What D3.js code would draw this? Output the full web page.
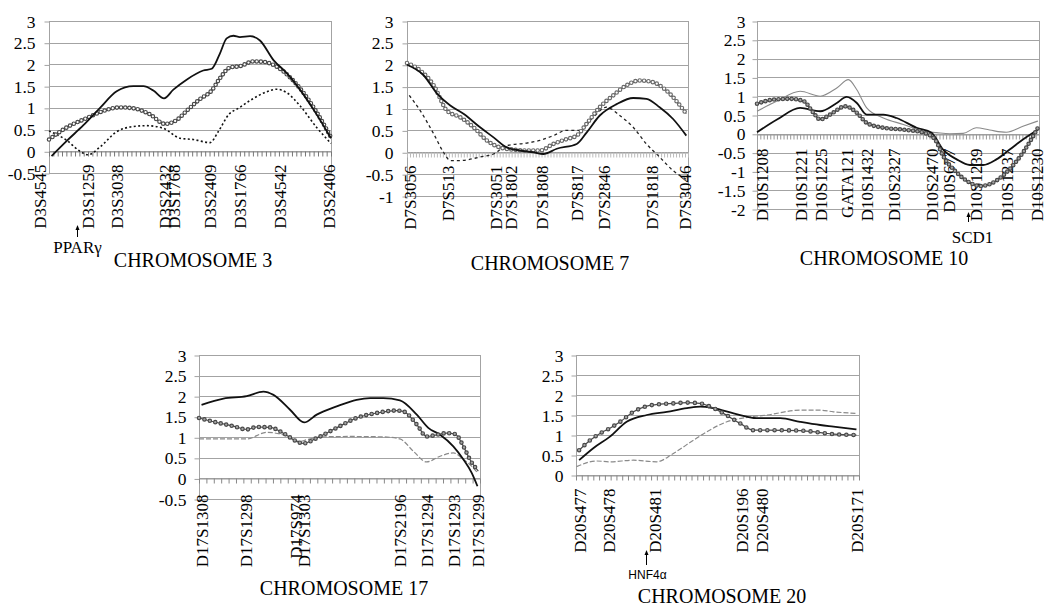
<!DOCTYPE html>
<html><head><meta charset="utf-8">
<script src="https://cdn.jsdelivr.net/npm/d3@7"></script>
<style>body{margin:0;background:#fff}svg{display:block}</style>
</head><body>
<svg id="c" width="1050" height="616"></svg>
<script>
// ---------------- DATA ----------------
// positions are relative map positions (0-100) along each chromosome segment
const chr3YTicks = [-0.5,0,0.5,1,1.5,2,2.5,3];
const chr3Markers = ["D3S4545","D3S1259","D3S3038","D3S2432","D3S1768","D3S2409","D3S1766","D3S4542","D3S2406"];
const chr3MarkerPos = [-3.5,13.5,24.1,40.8,44.3,57.1,67.4,81.9,99.3];
const chr3Solid = [[0.9,-0.11],[6.3,0.24],[12.2,0.6],[18.1,1.0],[24.0,1.38],[29.9,1.5],[33.5,1.5],[37.0,1.4],[40.8,1.22],[44.1,1.42],[48.8,1.65],[54.7,1.86],[57.7,1.9],[60.6,2.25],[63.0,2.6],[65.4,2.66],[67.7,2.63],[71.3,2.65],[74.8,2.55],[79.6,2.1],[84.3,1.8],[89.0,1.42],[94.9,0.85],[100,0.3]];
const chr3Circle = [[0,0.27],[6.3,0.55],[13.6,0.77],[18.1,0.9],[25.2,1.01],[29.9,0.99],[35.8,0.85],[41.1,0.63],[45.3,0.72],[48.8,0.93],[53.5,1.2],[57.7,1.4],[60.6,1.68],[64.2,1.93],[67.7,1.96],[72.5,2.07],[76.0,2.06],[80.7,1.95],[85.5,1.7],[90.2,1.35],[94.9,0.9],[100,0.32]];
const chr3Dotted = [[0,0.47],[6.3,0.25],[11.0,0.0],[13.9,-0.08],[18.1,0.1],[24.0,0.45],[29.9,0.57],[34.6,0.59],[40.5,0.53],[46.5,0.3],[51.2,0.27],[57.1,0.2],[60.0,0.45],[63.8,0.85],[67.4,1.0],[71.3,1.17],[77.2,1.37],[80.7,1.43],[84.3,1.35],[89.0,1.05],[94.9,0.55],[100,0.18]];

const chr7YTicks = [-1,-0.5,0,0.5,1,1.5,2,2.5,3];
const chr7Markers = ["D7S3056","D7S513","D7S3051","D7S1802","D7S1808","D7S817","D7S2846","D7S1818","D7S3046"];
const chr7MarkerPos = [0.8,14.4,31.4,36.7,47.9,60.4,69.8,87.0,98.8];
const chr7Solid = [[0,2.0],[5.9,1.76],[10.7,1.34],[15.4,1.07],[20.1,0.88],[26.0,0.57],[30.8,0.34],[35.5,0.11],[40.2,0.04],[45.0,0.0],[48.5,-0.04],[53.3,0.08],[60.4,0.19],[63.9,0.45],[68.6,0.84],[74.6,1.1],[80.5,1.24],[85.2,1.22],[89.9,1.03],[94.7,0.76],[99.4,0.38]];
const chr7Circle = [[0,2.04],[4.7,1.87],[9.5,1.53],[14.2,0.95],[18.9,0.8],[23.7,0.57],[28.4,0.27],[33.1,0.11],[37.9,0.06],[42.6,0.04],[47.3,0.04],[52.1,0.19],[56.8,0.3],[60.4,0.38],[63.9,0.65],[68.6,1.03],[73.4,1.3],[78.1,1.53],[82.8,1.64],[87.6,1.6],[92.3,1.41],[99.4,0.88]];
const chr7Dotted = [[0.8,1.3],[4.7,0.95],[9.5,0.42],[13.0,0.0],[15.4,-0.19],[18.9,-0.19],[26.0,-0.11],[30.8,-0.04],[35.5,0.15],[42.6,0.21],[47.3,0.27],[52.1,0.38],[56.8,0.5],[61.5,0.5],[66.3,0.8],[71.0,1.03],[75.7,0.84],[80.5,0.57],[85.2,0.19],[89.9,-0.11],[94.7,-0.42],[99.4,-0.62]];

const chr10YTicks = [-2,-1.5,-1,-0.5,0,0.5,1,1.5,2,2.5,3];
const chr10Markers = ["D10S1208","D10S1221","D10S1225","GATA121","D10S1432","D10S2327","D10S2470","D10S677","D10S1239","D10S1237","D10S1230"];
const chr10MarkerPos = [1.6,15.6,22.4,31.8,38.9,48.3,61.9,67.8,77.6,88.4,99.1];
const chr10Thin = [[0,0.6],[7.1,0.87],[15.3,1.13],[22.4,1.0],[28.3,1.22],[32.4,1.44],[35.4,1.17],[38.9,0.69],[44.8,0.42],[51.9,0.25],[59.0,0.07],[63.7,0.03],[68.4,0.0],[73.1,0.01],[77.8,0.16],[82.5,0.1],[88.4,0.04],[94.3,0.2],[99.6,0.34]];
const chr10Solid = [[0,0.04],[7.1,0.38],[15.3,0.69],[22.4,0.6],[28.3,0.82],[31.8,0.98],[35.4,0.82],[38.9,0.51],[44.8,0.51],[49.5,0.42],[56.6,0.16],[61.9,0.03],[66.0,-0.42],[70.8,-0.68],[75.5,-0.83],[80.2,-0.83],[84.9,-0.68],[89.6,-0.42],[94.3,-0.15],[99.6,0.11]];
const chr10Circle = [[0,0.8],[5.9,0.91],[11.8,0.93],[16.5,0.87],[20.0,0.56],[22.4,0.38],[25.9,0.51],[31.3,0.73],[35.4,0.56],[38.9,0.29],[44.8,0.16],[51.9,0.11],[59.0,0.03],[63.1,-0.15],[66.0,-0.59],[70.8,-1.03],[75.5,-1.3],[79.0,-1.39],[82.5,-1.34],[88.4,-1.03],[94.3,-0.5],[99.6,0.16]];

const chr17YTicks = [-0.5,0,0.5,1,1.5,2,2.5,3];
const chr17Markers = ["D17S1308","D17S1298","D17S974","D17S1303","D17S2196","D17S1294","D17S1293","D17S1299"];
const chr17MarkerPos = [0.9,16.4,34.2,37.1,71.5,81.0,90.7,99.1];
const chr17Solid = [[0.9,1.79],[8.7,1.94],[17.0,2.0],[22.9,2.11],[26.5,2.03],[32.4,1.67],[37.4,1.36],[41.9,1.55],[49.0,1.75],[56.1,1.91],[60.9,1.95],[65.6,1.95],[71.5,1.9],[77.5,1.55],[81.6,1.23],[85.8,1.06],[90.5,0.78],[94.1,0.46],[97.0,0.14],[99.1,-0.19]];
const chr17Circle = [[0,1.47],[6.3,1.36],[12.2,1.27],[17.0,1.19],[20.5,1.25],[25.3,1.24],[30.0,1.1],[34.8,0.9],[37.1,0.85],[41.9,0.98],[49.0,1.23],[56.1,1.47],[63.2,1.59],[70.3,1.65],[72.7,1.63],[77.5,1.31],[81.0,1.02],[84.6,1.06],[88.1,1.1],[91.1,1.08],[94.1,0.78],[96.4,0.46],[99.4,0.18]];
const chr17Dashed = [[0,0.96],[6.3,0.96],[17.0,0.96],[24.1,1.12],[30.0,1.06],[35.9,0.9],[38.3,0.94],[44.2,1.01],[53.7,1.02],[65.6,1.01],[71.5,0.96],[76.3,0.66],[81.0,0.4],[85.8,0.54],[90.5,0.62],[94.1,0.46],[97.0,0.3],[99.1,0.14]];

const chr20YTicks = [0,0.5,1,1.5,2,2.5,3];
const chr20Markers = ["D20S477","D20S478","D20S481","D20S196","D20S480","D20S171"];
const chr20MarkerPos = [1.1,11.4,27.9,58.6,65.7,99.1];
const chr20Solid = [[1.1,0.37],[6.1,0.67],[12.0,0.96],[17.9,1.33],[25.0,1.5],[32.1,1.58],[39.2,1.67],[43.9,1.71],[48.6,1.67],[55.7,1.54],[63.9,1.42],[72.2,1.42],[79.2,1.33],[86.3,1.25],[91.0,1.21],[99.1,1.14]];
const chr20Circle = [[1.1,0.62],[5.0,0.87],[8.5,1.04],[12.0,1.17],[15.6,1.33],[20.3,1.58],[25.0,1.72],[29.7,1.77],[34.4,1.79],[39.2,1.81],[43.9,1.79],[47.4,1.71],[52.1,1.54],[58.0,1.29],[62.7,1.12],[67.5,1.12],[79.2,1.11],[86.3,1.06],[91.0,1.02],[99.1,1.0]];
const chr20Dashed = [[0.2,0.21],[7.3,0.35],[12.0,0.33],[20.3,0.37],[28.5,0.33],[34.4,0.54],[41.5,0.87],[46.2,1.08],[53.3,1.33],[60.4,1.44],[67.5,1.5],[79.2,1.62],[86.3,1.62],[91.0,1.58],[99.1,1.54]];

const titles = ["CHROMOSOME 3","CHROMOSOME 7","CHROMOSOME 10","CHROMOSOME 17","CHROMOSOME 20"];
const geneNames = ["PPARγ","SCD1","HNF4α"];
const genePos = [9.9, 74.8, 24.7];

// ---------------- LAYOUT / STYLE ----------------
const SERIF = "'Liberation Serif','Times New Roman',serif";
const panels = [
  {left:49,right:331,top:21,bottom:173,yTicks:chr3YTicks,markers:chr3Markers,markerPos:chr3MarkerPos,
   series:[{d:chr3Dotted,s:'dotted'},{d:chr3Circle,s:'open',sp:4.2},{d:chr3Solid,s:'solid'}],
   nMinor:65,tickColor:'#777',labelGap:13,yGap:14,title:titles[0],tx:193,ty:267},
  {left:407,right:688,top:21,bottom:196,yTicks:chr7YTicks,markers:chr7Markers,markerPos:chr7MarkerPos,
   series:[{d:chr7Dotted,s:'dashed'},{d:chr7Circle,s:'open2',sp:4.4},{d:chr7Solid,s:'solid'}],
   nMinor:94,tickColor:'#bbb',labelGap:13,yGap:14,title:titles[1],tx:550,ty:270},
  {left:757,right:1039,top:21,bottom:209,yTicks:chr10YTicks,markers:chr10Markers,markerPos:chr10MarkerPos,
   series:[{d:chr10Thin,s:'thin'},{d:chr10Solid,s:'solid'},{d:chr10Circle,s:'filled',sp:4.4}],
   nMinor:85,tickColor:'#999',labelGap:14,yGap:12,title:titles[2],tx:884,ty:265},
  {left:199,right:480,top:355,bottom:499,yTicks:chr17YTicks,markers:chr17Markers,markerPos:chr17MarkerPos,
   series:[{d:chr17Dashed,s:'graydash'},{d:chr17Solid,s:'solid'},{d:chr17Circle,s:'filled',sp:5.6}],
   nMinor:38,tickColor:'#888',labelGap:16,yGap:13,title:titles[3],tx:344,ty:595},
  {left:576,right:859,top:355,bottom:475,yTicks:chr20YTicks,markers:chr20Markers,markerPos:chr20MarkerPos,
   series:[{d:chr20Dashed,s:'graydash'},{d:chr20Solid,s:'solid'},{d:chr20Circle,s:'filled',sp:7.2}],
   nMinor:49,tickColor:'#888',labelGap:13,yGap:13,title:titles[4],tx:722,ty:603}
];
const genes = [
  {panel:0,name:geneNames[0],x:genePos[0],a1:52,a2:64,tdx:0,ty:80,font:SERIF,size:17},
  {panel:2,name:geneNames[1],x:genePos[1],a1:3,a2:13,tdx:4,ty:34,font:SERIF,size:17},
  {panel:4,name:geneNames[2],x:genePos[2],a1:75,a2:90,tdx:1,ty:104,font:"'Liberation Sans',Arial,sans-serif",size:12}
];

const svg = d3.select('#c');
const scales = [];
const GRID = '#a3a3a3';

function drawPanel(p){
  const g = svg.append('g');
  const yMin = p.yTicks[0], yMax = p.yTicks[p.yTicks.length-1];
  const x = d3.scaleLinear().domain([0,100]).range([p.left,p.right]);
  const y = d3.scaleLinear().domain([yMin,yMax]).range([p.bottom,p.top]);
  scales.push({x,y});
  // grid
  g.append('g').selectAll('line').data(p.yTicks).join('line')
    .attr('x1',p.left).attr('x2',p.right)
    .attr('y1',d=>Math.round(y(d))+0.5).attr('y2',d=>Math.round(y(d))+0.5)
    .attr('stroke',GRID).attr('stroke-width',1);
  g.append('rect').attr('x',p.left+0.5).attr('y',Math.round(p.top)+0.5)
    .attr('width',p.right-p.left).attr('height',Math.round(p.bottom)-Math.round(p.top))
    .attr('fill','none').attr('stroke',GRID);
  // y axis labels and outward major ticks
  const ya = g.append('g').attr('transform',`translate(${p.left+0.5},0.5)`)
    .call(d3.axisLeft(y.copy().range([Math.round(p.bottom),Math.round(p.top)])).tickValues(p.yTicks).tickSize(5).tickSizeOuter(0).tickPadding(p.yGap-5).tickFormat(d=>String(d)));
  ya.select('.domain').remove();
  ya.selectAll('line').attr('stroke',GRID);
  ya.selectAll('text').attr('font-family',SERIF).attr('font-size',17.5).attr('fill','#000');
  // zero axis with minor category ticks
  const y0 = Math.round(y(0))+0.5;
  const mt = g.append('g').attr('transform',`translate(0,${y0})`)
    .call(d3.axisBottom(x).tickValues(d3.range(p.nMinor+1).map(i=>i*100/p.nMinor)).tickSize(5).tickSizeOuter(0).tickFormat(''));
  mt.selectAll('line').attr('stroke',p.tickColor);
  mt.select('.domain').attr('stroke','#999');
  // marker labels
  const nameOf = new Map(p.markerPos.map((v,i)=>[v,p.markers[i]]));
  const la = g.append('g').attr('transform',`translate(0,${y0})`)
    .call(d3.axisBottom(x).tickValues(p.markerPos).tickSize(0).tickFormat(d=>nameOf.get(d)));
  la.select('.domain').remove();
  la.selectAll('text').attr('transform','rotate(-90)').attr('text-anchor','end')
    .attr('x',-p.labelGap).attr('y',0).attr('dy','0.35em')
    .attr('font-family',SERIF).attr('font-size',17).attr('fill','#000');
  // series
  const line = d3.line().x(d=>x(d[0])).y(d=>y(d[1])).curve(d3.curveMonotoneX);
  p.series.forEach(s=>{
    const dd = line(s.d);
    if(s.s==='solid'){
      g.append('path').attr('d',dd).attr('fill','none').attr('stroke','#111').attr('stroke-width',1.8);
    } else if(s.s==='dotted'){
      g.append('path').attr('d',dd).attr('fill','none').attr('stroke','#111').attr('stroke-width',1.6).attr('stroke-dasharray','2,2.4');
    } else if(s.s==='dashed'){
      g.append('path').attr('d',dd).attr('fill','none').attr('stroke','#222').attr('stroke-width',1.3).attr('stroke-dasharray','3,3');
    } else if(s.s==='thin'){
      g.append('path').attr('d',dd).attr('fill','none').attr('stroke','#8a8a8a').attr('stroke-width',1.1);
    } else if(s.s==='graydash'){
      g.append('path').attr('d',dd).attr('fill','none').attr('stroke','#8a8a8a').attr('stroke-width',1.2).attr('stroke-dasharray','5,2');
    } else {
      const outer = s.s==='open2' ? '#6a6a6a' : '#484848';
      const inner = s.s==='filled' ? '#a5a5a5' : '#ffffff';
      g.append('path').attr('d',dd).attr('fill','none').attr('stroke',outer).attr('stroke-width',1.2);
      g.append('path').attr('d',dd).attr('fill','none').attr('stroke',outer).attr('stroke-width',4.6)
        .attr('stroke-linecap','round').attr('stroke-dasharray',`0,${s.sp}`);
      g.append('path').attr('d',dd).attr('fill','none').attr('stroke',inner).attr('stroke-width',2.3)
        .attr('stroke-linecap','round').attr('stroke-dasharray',`0,${s.sp}`);
    }
  });
  // title
  g.append('text').attr('x',p.tx).attr('y',p.ty).attr('text-anchor','middle')
    .attr('font-family',SERIF).attr('font-size',20).attr('fill','#000').text(p.title);
}
panels.forEach(drawPanel);

// gene annotations with arrows
genes.forEach(a=>{
  const p = panels[a.panel], sc = scales[a.panel];
  const ax = Math.round(sc.x(a.x))+0.5;
  const g = svg.append('g');
  g.append('line').attr('x1',ax).attr('x2',ax).attr('y1',p.bottom+a.a1+3).attr('y2',p.bottom+a.a2)
    .attr('stroke','#000').attr('stroke-width',1);
  g.append('path').attr('d',`M${ax},${p.bottom+a.a1} l-2,5 l4,0 z`).attr('fill','#000');
  g.append('text').attr('x',ax+a.tdx).attr('y',p.bottom+a.ty).attr('text-anchor','middle')
    .attr('font-family',a.font).attr('font-size',a.size).attr('fill','#000').text(a.name);
});
</script>
</body></html>
